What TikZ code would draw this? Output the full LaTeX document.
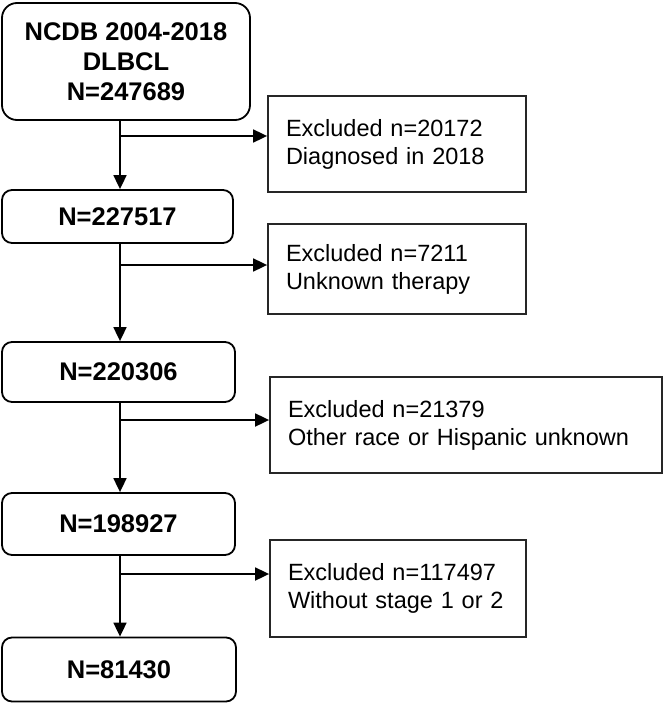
\documentclass[tikz,border=0pt]{standalone}
\usepackage{fontspec}
\setmainfont{Liberation Sans}
\usepackage{tikz}
\usetikzlibrary{arrows.meta,positioning,calc}
\tikzset{
  count/.style={rectangle,rounded corners=10pt,draw=black,line width=1.8pt,
    font=\fontsize{25.5}{30}\selectfont\bfseries,align=center,inner sep=0pt},
  excl/.style={rectangle,draw=black!85,line width=1.8pt,
    font=\fontsize{23.5}{28}\selectfont,align=left,inner sep=0pt,
    text width=#1},
  arrow/.style={-{Triangle[length=14pt,width=13pt]},line width=1.8pt}
}
\begin{document}
\begin{tikzpicture}[x=1pt,y=-1pt]
  \useasboundingbox (0,0) rectangle (664,703);
  % population boxes
  \node[count,rounded corners=15pt,minimum width=248pt,minimum height=117pt] (top) at (126,61.5)
    {NCDB 2004-2018\\DLBCL\\N=247689};
  \node[count,minimum width=231pt,minimum height=53pt] (n1) at (117.5,216.5) {N=227517};
  \node[count,minimum width=233pt,minimum height=60pt] (n2) at (118.5,372) {N=220306};
  \node[count,minimum width=233pt,minimum height=62pt] (n3) at (118.5,524) {N=198927};
  \node[count,minimum width=234pt,minimum height=64pt] (n4) at (119,669.5) {N=81430};
  % exclusion boxes
  \node[excl=222pt,minimum width=258pt,minimum height=96pt] (ex1) at (397,144)
    {Excluded n=20172\\Diagnosed in 2018\\[3pt]};
  \node[excl=222pt,minimum width=258pt,minimum height=90pt] (ex2) at (397,269)
    {Excluded n=7211\\Unknown therapy};
  \node[excl=356pt,minimum width=392pt,minimum height=96pt] (ex3) at (466,425)
    {Excluded n=21379\\Other race or Hispanic unknown};
  \node[excl=220pt,minimum width=256pt,minimum height=97pt] (ex4) at (398,588.5)
    {Excluded n=117497\\Without stage 1 or 2\\[3pt]};
  % branch points
  \coordinate (b1) at (120,136);
  \coordinate (b2) at (120,265);
  \coordinate (b3) at (120,420);
  \coordinate (b4) at (120,574);
  % trunk
  \draw[arrow] (top.south -| b1) -- (n1.north -| b1);
  \draw[arrow] (n1.south -| b2) -- (n2.north -| b2);
  \draw[arrow] (n2.south -| b3) -- (n3.north -| b3);
  \draw[arrow] (n3.south -| b4) -- (n4.north -| b4);
  % exclusions
  \draw[arrow] (b1) -- (b1 -| ex1.west);
  \draw[arrow] (b2) -- (b2 -| ex2.west);
  \draw[arrow] (b3) -- (b3 -| ex3.west);
  \draw[arrow] (b4) -- (b4 -| ex4.west);
\end{tikzpicture}
\end{document}
